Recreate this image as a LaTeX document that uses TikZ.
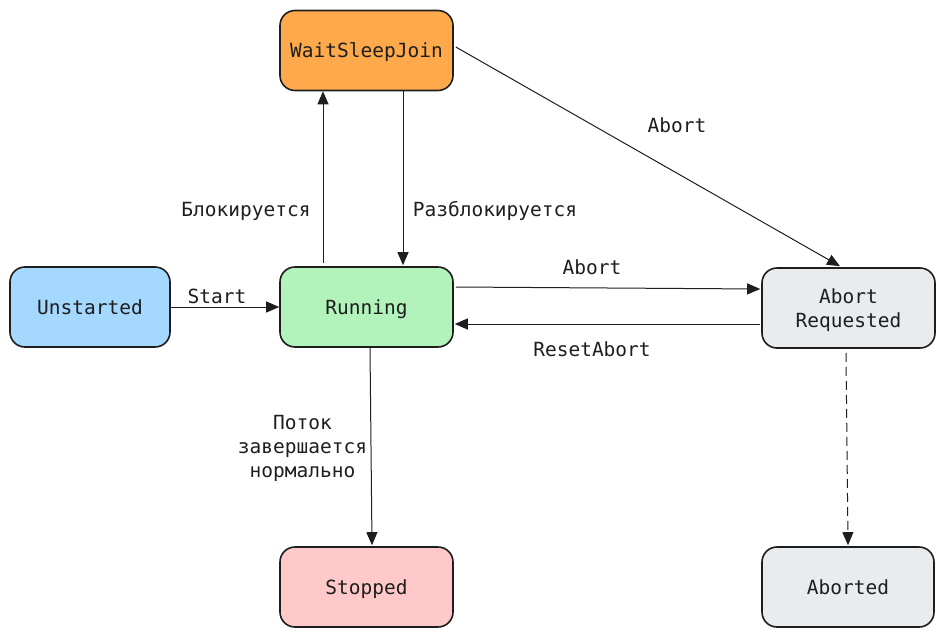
\documentclass[tikz,border=0pt]{standalone}
\usepackage{fontspec}
\setmonofont{DejaVu Sans Mono}
\usetikzlibrary{arrows.meta,calc}
\definecolor{ink}{HTML}{1E1E1E}
\definecolor{cOrange}{HTML}{FFA94D}
\definecolor{cBlue}{HTML}{A5D8FF}
\definecolor{cGreen}{HTML}{B2F2BB}
\definecolor{cGrey}{HTML}{E9ECEF}
\definecolor{cPink}{HTML}{FFC9C9}
\tikzset{
  statebox/.style={draw=ink, line width=1.6pt, rounded corners=15pt,
    minimum width=173pt, minimum height=80pt, align=center,
    font=\ttfamily\fontsize{19.5}{24}\selectfont, text=ink, inner sep=0pt},
  oneline/.style={text height=14pt, text depth=0pt},
  lbl/.style={font=\ttfamily\fontsize{19.5}{24}\selectfont, text=ink, align=center, inner sep=0pt},
  conn/.style={draw=ink, line width=1pt, -{Triangle[length=13pt,width=11pt]}},
}
\begin{document}
\begin{tikzpicture}[x=1pt,y=-1pt]
\useasboundingbox (0,0) rectangle (945,637);
\node[statebox, oneline, fill=cOrange] (wsj) at (366.5,50.5) {WaitSleepJoin};
\node[statebox, oneline, fill=cBlue, minimum width=160pt] (uns) at (90,307) {Unstarted};
\node[statebox, oneline, fill=cGreen] (run) at (366.5,307) {Running};
\node[statebox, fill=cGrey, text depth=0pt] (ar) at (848.5,308) {Abort\\Requested};
\node[statebox, oneline, fill=cPink] (stp) at (366.5,587) {Stopped};
\node[statebox, oneline, fill=cGrey, minimum width=172pt] (abd) at (848,587) {Aborted};

\draw[conn] (uns.east) -- (run.west);
\draw[conn] ([xshift=-43.5pt,yshift=3pt]run.north) -- ([xshift=-43.5pt]wsj.south);
\draw[conn] ([xshift=36.5pt]wsj.south) -- ([xshift=36.5pt,yshift=1pt]run.north);
\draw[conn] ([xshift=2pt,yshift=3.5pt]wsj.east) -- ([xshift=-8.5pt,yshift=1pt]ar.north);
\draw[conn] ([xshift=2pt,yshift=20pt]run.east) -- ([xshift=-1pt,yshift=19pt]ar.west);
\draw[conn] ([xshift=-1pt,yshift=-16pt]ar.west) -- ([xshift=1pt,yshift=-17pt]run.east);
\draw[conn] ([xshift=3.5pt]run.south) -- ([xshift=5.5pt,yshift=1pt]stp.north);
\draw[conn, dash pattern=on 9pt off 5pt] ([xshift=-2.5pt,yshift=-4pt]ar.south) -- ([xshift=0pt,yshift=1pt]abd.north);

\node[lbl] (lStart) at (217,296) {Start};
\node[lbl] (lBlk) at (246,211) {Блокируется};
\node[lbl] (lUnb) at (495,211) {Разблокируется};
\node[lbl] (lAb1) at (677,125) {Abort};
\node[lbl] (lAb2) at (592,267) {Abort};
\node[lbl] (lRes) at (592,349) {ResetAbort};
\node[lbl] (lEnd) at (302.5,448) {Поток\\завершается\\нормально};
\end{tikzpicture}
\end{document}
